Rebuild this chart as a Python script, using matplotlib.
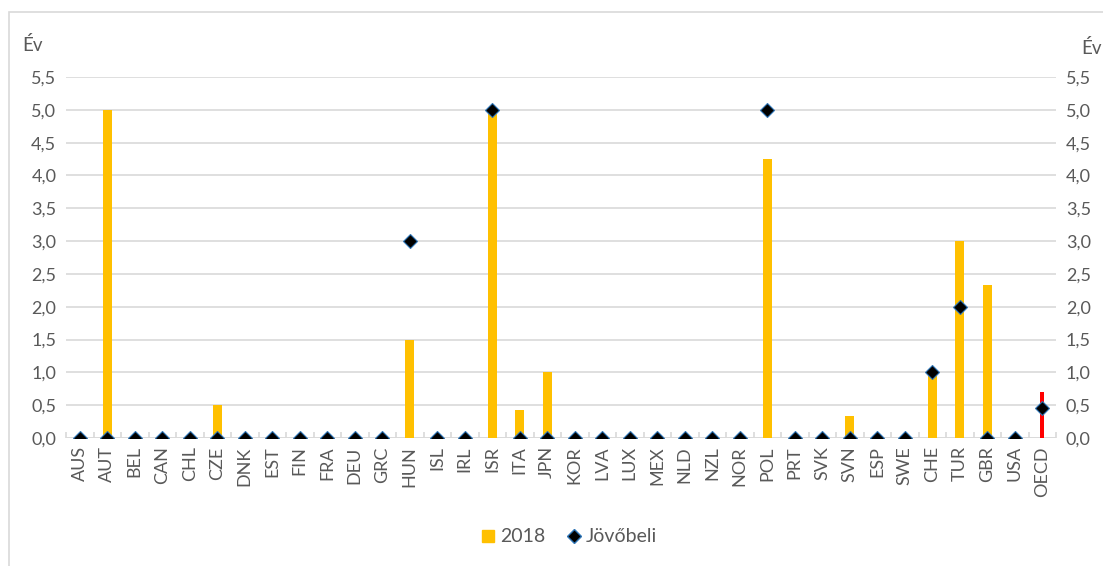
import numpy as np
import matplotlib.pyplot as plt
from matplotlib.patches import Rectangle
from matplotlib.lines import Line2D

# adatok
orszagok = ["AUS", "AUT", "BEL", "CAN", "CHL", "CZE", "DNK", "EST", "FIN", "FRA",
            "DEU", "GRC", "HUN", "ISL", "IRL", "ISR", "ITA", "JPN", "KOR", "LVA",
            "LUX", "MEX", "NLD", "NZL", "NOR", "POL", "PRT", "SVK", "SVN", "ESP",
            "SWE", "CHE", "TUR", "GBR", "USA", "OECD"]
ertek_2018 = [0, 5.0, 0, 0, 0, 0.5, 0, 0, 0, 0,
              0, 0, 1.5, 0, 0, 5.0, 0.42, 1.0, 0, 0,
              0, 0, 0, 0, 0, 4.25, 0, 0, 0.33, 0,
              0, 1.0, 3.0, 2.33, 0, 0.7]
jovobeli = [0, 0, 0, 0, 0, 0, 0, 0, 0, 0,
            0, 0, 3.0, 0, 0, 5.0, 0, 0, 0, 0,
            0, 0, 0, 0, 0, 5.0, 0, 0, 0, 0,
            0, 1.0, 2.0, 0, 0, 0.45]
yticks = [0, 0.5, 1.0, 1.5, 2.0, 2.5, 3.0, 3.5, 4.0, 4.5, 5.0, 5.5]

szurke = "#595959"
plt.rcParams['font.family'] = ['Lato', 'DejaVu Sans']

fig = plt.figure(figsize=(11.03, 5.66), dpi=100)
ax = fig.add_axes([66/1103, 1-438/566, (1056-66)/1103, (438-77)/566])

x = np.arange(len(orszagok))
szinek = ["#ffc000"] * (len(orszagok) - 1) + ["#ff0000"]
szelessegek = [0.33] * (len(orszagok) - 1) + [0.14]
ax.bar(x, ertek_2018, width=szelessegek, color=szinek, zorder=2)
ax.plot(x, jovobeli, linestyle="none", marker="D", markersize=7,
        markerfacecolor="black", markeredgecolor="#2e75b6", markeredgewidth=0.8, zorder=3)

ax.set_xlim(-0.5, len(orszagok) - 0.5)
ax.set_ylim(0, 5.5)
ax.set_yticks(yticks)
ax.set_yticklabels([f"{v:.1f}".replace(".", ",") for v in yticks])
ax.yaxis.grid(True, color="#d9d9d9", linewidth=1.2, zorder=0)
ax.tick_params(axis="y", length=0, labelsize=13, labelcolor=szurke, pad=7,
               right=True, labelright=True)
for s in ax.spines.values():
    s.set_visible(False)
ax.axhline(0, color="#d9d9d9", linewidth=1.2, zorder=1)

ax.set_xticks(x)
ax.set_xticklabels(orszagok, rotation=90, fontsize=13, color=szurke)
ax.set_xticks(np.arange(-0.5, len(orszagok), 1), minor=True)
ax.tick_params(axis="x", which="major", length=0, pad=6)
ax.tick_params(axis="x", which="minor", length=4, direction="in", color="#d9d9d9", width=1.2)

fig.text(22/1103, 1-45/566, "Év", fontsize=13.5, color=szurke, va="center")
fig.text(1081/1103, 1-48/566, "Év", fontsize=13.5, color=szurke, va="center")

# keret
fig.patches.append(Rectangle((9/1103, -0.1), 1.2, 1-12/566 + 0.1, transform=fig.transFigure,
                             fill=False, edgecolor="#d9d9d9", linewidth=1.2))

jelmagyarazat = [Line2D([], [], linestyle="none", marker="s", markersize=9,
                        markerfacecolor="#ffc000", markeredgecolor="#ffc000", label="2018"),
                 Line2D([], [], linestyle="none", marker="D", markersize=7,
                        markerfacecolor="black", markeredgecolor="#2e75b6", label="Jövőbeli")]
fig.legend(handles=jelmagyarazat, loc="center", bbox_to_anchor=(568/1103, 1-537/566),
           ncol=2, frameon=False, fontsize=14, labelcolor=szurke, handletextpad=0.1,
           columnspacing=1.0, handlelength=1)

fig.savefig("out.png", dpi=100)
